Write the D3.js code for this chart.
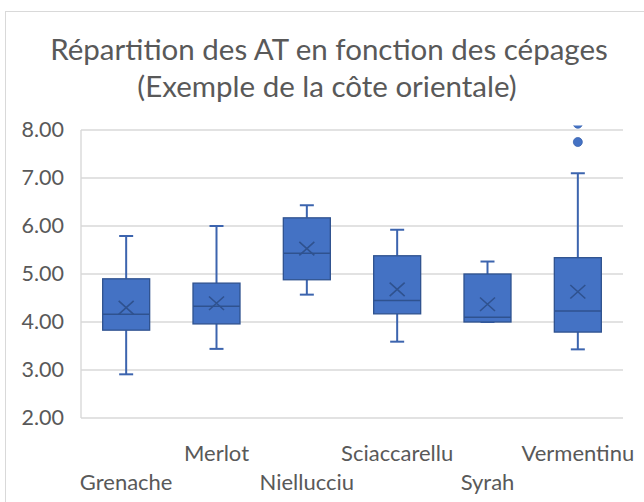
<!DOCTYPE html>
<html>
<head>
<meta charset="utf-8">
<script src="https://cdn.jsdelivr.net/npm/d3@7"></script>
<style>
  body { margin: 0; background: #fff; }
  text { font-family: Lato, "Open Sans", sans-serif; fill: #595959; }
</style>
</head>
<body>
<div id="chart"></div>
<script>
// data
var cepages  = ["Grenache", "Merlot", "Niellucciu", "Sciaccarellu", "Syrah", "Vermentinu"];
var wMin     = [2.91, 3.44, 4.57, 3.59, 4.00, 3.43];
var q1       = [3.83, 3.96, 4.88, 4.17, 4.00, 3.79];
var mediane  = [4.16, 4.33, 5.43, 4.45, 4.10, 4.23];
var q3       = [4.90, 4.81, 6.17, 5.38, 5.00, 5.34];
var wMax     = [5.79, 6.00, 6.43, 5.92, 5.26, 7.10];
var moyenne  = [4.30, 4.39, 5.53, 4.68, 4.37, 4.63];
var outliers = [[], [], [], [], [], [7.75, 8.13]];
var yTicks   = [2, 3, 4, 5, 6, 7, 8];

var width = 644, height = 502;
var margin = {top: 130, right: 21, bottom: 84, left: 81};

var svg = d3.select("#chart")
  .append("svg")
    .attr("width", width)
    .attr("height", height);

// chart border (runs off the picture on the right and bottom)
svg.append("rect")
  .attr("x", 5.5).attr("y", 11.5)
  .attr("width", 700).attr("height", 600)
  .attr("fill", "none")
  .attr("stroke", "#d9d9d9")
  .attr("stroke-width", 1);

// title
var title = svg.append("text")
  .attr("text-anchor", "middle")
  .attr("font-size", "29.5px");
title.append("tspan").attr("x", 329).attr("y", 60).text("Répartition des AT en fonction des cépages");
title.append("tspan").attr("x", 327).attr("y", 97).text("(Exemple de la côte orientale)");

var x = d3.scaleBand()
  .domain(cepages)
  .range([margin.left, width - margin.right]);

var y = d3.scaleLinear()
  .domain([2, 8])
  .range([height - margin.bottom, margin.top]);

// gridlines
svg.append("g")
  .selectAll("line")
  .data(yTicks)
  .enter()
  .append("line")
    .attr("x1", margin.left).attr("x2", width - margin.right)
    .attr("y1", function(d){ return y(d); })
    .attr("y2", function(d){ return y(d); })
    .attr("stroke", "#d9d9d9")
    .attr("stroke-width", 1.4);

// left edge of plot
svg.append("line")
  .attr("x1", margin.left).attr("x2", margin.left)
  .attr("y1", y(8)).attr("y2", y(2))
  .attr("stroke", "#d9d9d9")
  .attr("stroke-width", 1.4);

// y axis labels
var yAxis = d3.axisLeft(y)
  .tickValues(yTicks)
  .tickFormat(d3.format(".2f"))
  .tickSize(0)
  .tickPadding(17);
var ya = svg.append("g")
  .attr("transform", "translate(" + margin.left + ",0)")
  .call(yAxis);
ya.select(".domain").remove();
ya.selectAll("text")
  .attr("font-size", "21.5px")
  .style("font-family", "Lato, sans-serif")
  .attr("fill", "#595959");

// x labels, staggered on two rows, centred on each category
svg.append("g")
  .selectAll("text")
  .data(cepages)
  .enter()
  .append("text")
    .attr("x", function(d){ return x(d) + x.bandwidth() / 2; })
    .attr("y", function(d, i){ return i % 2 ? 461 : 490; })
    .attr("text-anchor", "middle")
    .attr("font-size", "22px")
    .text(function(d){ return d; });

// clip so the top outlier is cut like in the original
svg.append("clipPath").attr("id", "plotclip")
  .append("rect")
    .attr("x", margin.left).attr("y", y(8) - 4.5)
    .attr("width", width - margin.left - margin.right)
    .attr("height", y(2) - y(8) + 4.5);

var boxW = 47, capW = 14;
var blue = "#4472C4", dark = "#2F528F", line = "#3C64AE";

var g = svg.append("g").attr("clip-path", "url(#plotclip)");

var cat = g.selectAll(".cat")
  .data(cepages)
  .enter()
  .append("g")
    .attr("class", "cat")
    .attr("transform", function(d){ return "translate(" + (x(d) + x.bandwidth() / 2) + ",0)"; });

// whiskers
cat.append("line")
  .attr("x1", 0).attr("x2", 0)
  .attr("y1", function(d, i){ return y(wMax[i]); })
  .attr("y2", function(d, i){ return y(q3[i]); })
  .attr("stroke", line).attr("stroke-width", 2);
cat.append("line")
  .attr("x1", 0).attr("x2", 0)
  .attr("y1", function(d, i){ return y(q1[i]); })
  .attr("y2", function(d, i){ return y(wMin[i]); })
  .attr("stroke", line).attr("stroke-width", 2);
cat.append("line")
  .attr("x1", -capW / 2).attr("x2", capW / 2)
  .attr("y1", function(d, i){ return y(wMax[i]); })
  .attr("y2", function(d, i){ return y(wMax[i]); })
  .attr("stroke", line).attr("stroke-width", 2);
cat.append("line")
  .attr("x1", -capW / 2).attr("x2", capW / 2)
  .attr("y1", function(d, i){ return y(wMin[i]); })
  .attr("y2", function(d, i){ return y(wMin[i]); })
  .attr("stroke", line).attr("stroke-width", 2);

// boxes
cat.append("rect")
  .attr("x", -boxW / 2)
  .attr("y", function(d, i){ return y(q3[i]); })
  .attr("width", boxW)
  .attr("height", function(d, i){ return y(q1[i]) - y(q3[i]); })
  .attr("fill", blue)
  .attr("stroke", dark)
  .attr("stroke-width", 1.3);

// median
cat.append("line")
  .attr("x1", -boxW / 2).attr("x2", boxW / 2)
  .attr("y1", function(d, i){ return y(mediane[i]); })
  .attr("y2", function(d, i){ return y(mediane[i]); })
  .attr("stroke", dark).attr("stroke-width", 1.5);

// mean marker (X)
var mx = 7.5;
cat.append("path")
  .attr("d", function(d, i){
    var c = y(moyenne[i]);
    return "M" + (-mx) + "," + (c - mx * 0.9) + "L" + mx + "," + (c + mx * 0.9) +
           "M" + (-mx) + "," + (c + mx * 0.9) + "L" + mx + "," + (c - mx * 0.9);
  })
  .attr("stroke", dark).attr("stroke-width", 1.6).attr("fill", "none");

// outliers
cat.selectAll("circle")
  .data(function(d, i){ return outliers[i]; })
  .enter()
  .append("circle")
    .attr("cx", 0)
    .attr("cy", function(v){ return y(v); })
    .attr("r", 4.5)
    .attr("fill", blue)
    .attr("stroke", line)
    .attr("stroke-width", 0.8);
</script>
</body>
</html>
